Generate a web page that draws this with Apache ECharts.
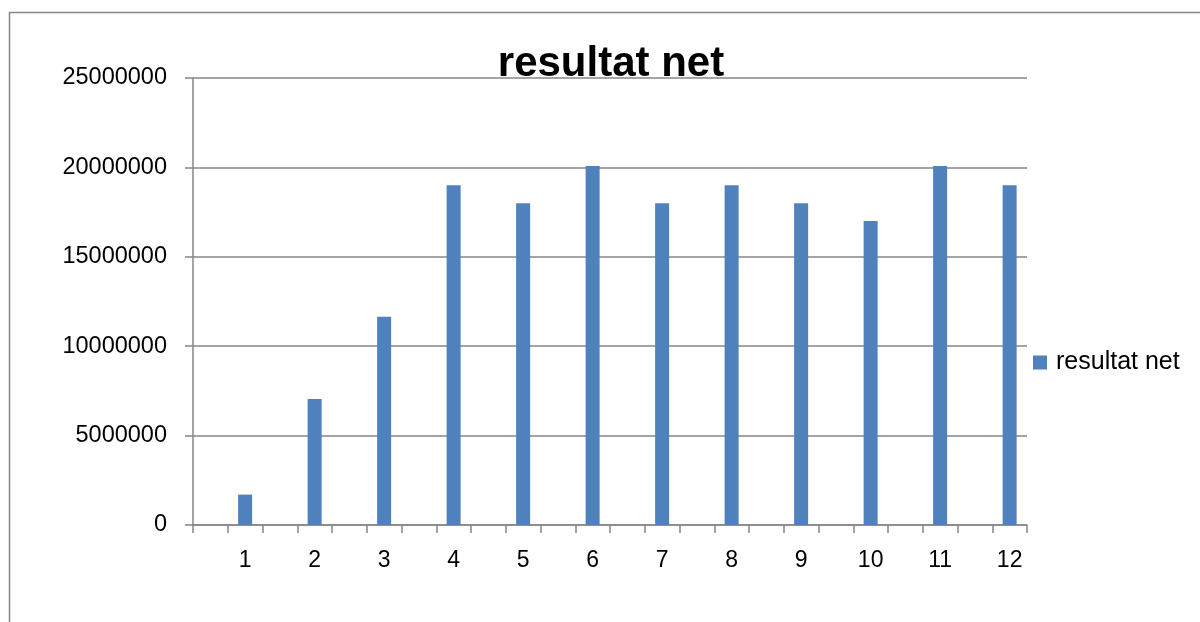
<!DOCTYPE html>
<html>
<head>
<meta charset="utf-8">
<script src="https://cdn.jsdelivr.net/npm/echarts@6/dist/echarts.min.js"></script>
<style>
html,body{margin:0;padding:0;background:#fff;}
#chart{width:1200px;height:622px;}
</style>
</head>
<body>
<div id="chart"></div>
<script>
const seriesName = 'resultat net';
const months = ['1','2','3','4','5','6','7','8','9','10','11','12'];
const values = [1700000, 7050000, 11650000, 19000000, 18000000, 20080000, 18000000, 19000000, 18000000, 17000000, 20080000, 19000000];
const yTicks = [0, 5000000, 10000000, 15000000, 20000000, 25000000];

// The source axis has an empty slot before each labelled category.
const slots = [];
const slotValues = [];
months.forEach((m, i) => {
  slots.push(' ' + i);
  slotValues.push(null);
  slots.push(m);
  slotValues.push(values[i]);
});

const FONT = 'Liberation Sans';
const AXIS_COLOR = '#868686';

const chart = echarts.init(document.getElementById('chart'), null, {renderer: 'canvas'});
chart.setOption({
  animation: false,
  backgroundColor: '#ffffff',
  title: {
    text: seriesName,
    left: 611,
    textAlign: 'center',
    top: 43,
    padding: 0,
    textStyle: {fontFamily: FONT, fontSize: 42, fontWeight: 'bold', color: '#000', lineHeight: 42}
  },
  legend: {
    orient: 'vertical',
    left: 1033,
    top: 350,
    padding: 0,
    itemWidth: 14,
    itemHeight: 14,
    icon: 'rect',
    data: [seriesName],
    textStyle: {fontFamily: FONT, fontSize: 25, color: '#000', lineHeight: 25, padding: [0, 0, 0, 4]}
  },
  grid: {left: 193, right: 173, top: 78, bottom: 97, containLabel: false},
  xAxis: {
    type: 'category',
    data: slots,
    boundaryGap: true,
    axisLine: {lineStyle: {color: AXIS_COLOR, width: 1.5}},
    axisTick: {show: true, length: 8, interval: 0, lineStyle: {color: AXIS_COLOR, width: 1.5}},
    axisLabel: {
      interval: 0,
      margin: 24,
      fontFamily: FONT,
      fontSize: 23,
      color: '#000',
      lineHeight: 23,
      formatter: v => (v.charAt(0) === ' ' ? '' : v)
    },
    splitLine: {show: false}
  },
  yAxis: {
    type: 'value',
    min: yTicks[0],
    max: yTicks[yTicks.length - 1],
    interval: yTicks[1] - yTicks[0],
    axisLine: {show: true, lineStyle: {color: AXIS_COLOR, width: 1.5}},
    axisTick: {show: true, length: 8, lineStyle: {color: AXIS_COLOR, width: 1.5}},
    axisLabel: {margin: 26, fontFamily: FONT, fontSize: 23.5, color: '#000', padding: [4, 0, 0, 0], formatter: v => String(v)},
    splitLine: {show: true, lineStyle: {color: AXIS_COLOR, width: 1.5}}
  },
  series: [{
    name: seriesName,
    type: 'bar',
    data: slotValues,
    barWidth: 14,
    itemStyle: {color: '#4F81BD'}
  }],
  graphic: [{
    type: 'rect',
    shape: {x: 9.5, y: 12.5, width: 1300, height: 700},
    style: {fill: 'none', stroke: '#868686', lineWidth: 1.5},
    silent: true,
    z: 100
  }]
});
</script>
</body>
</html>
